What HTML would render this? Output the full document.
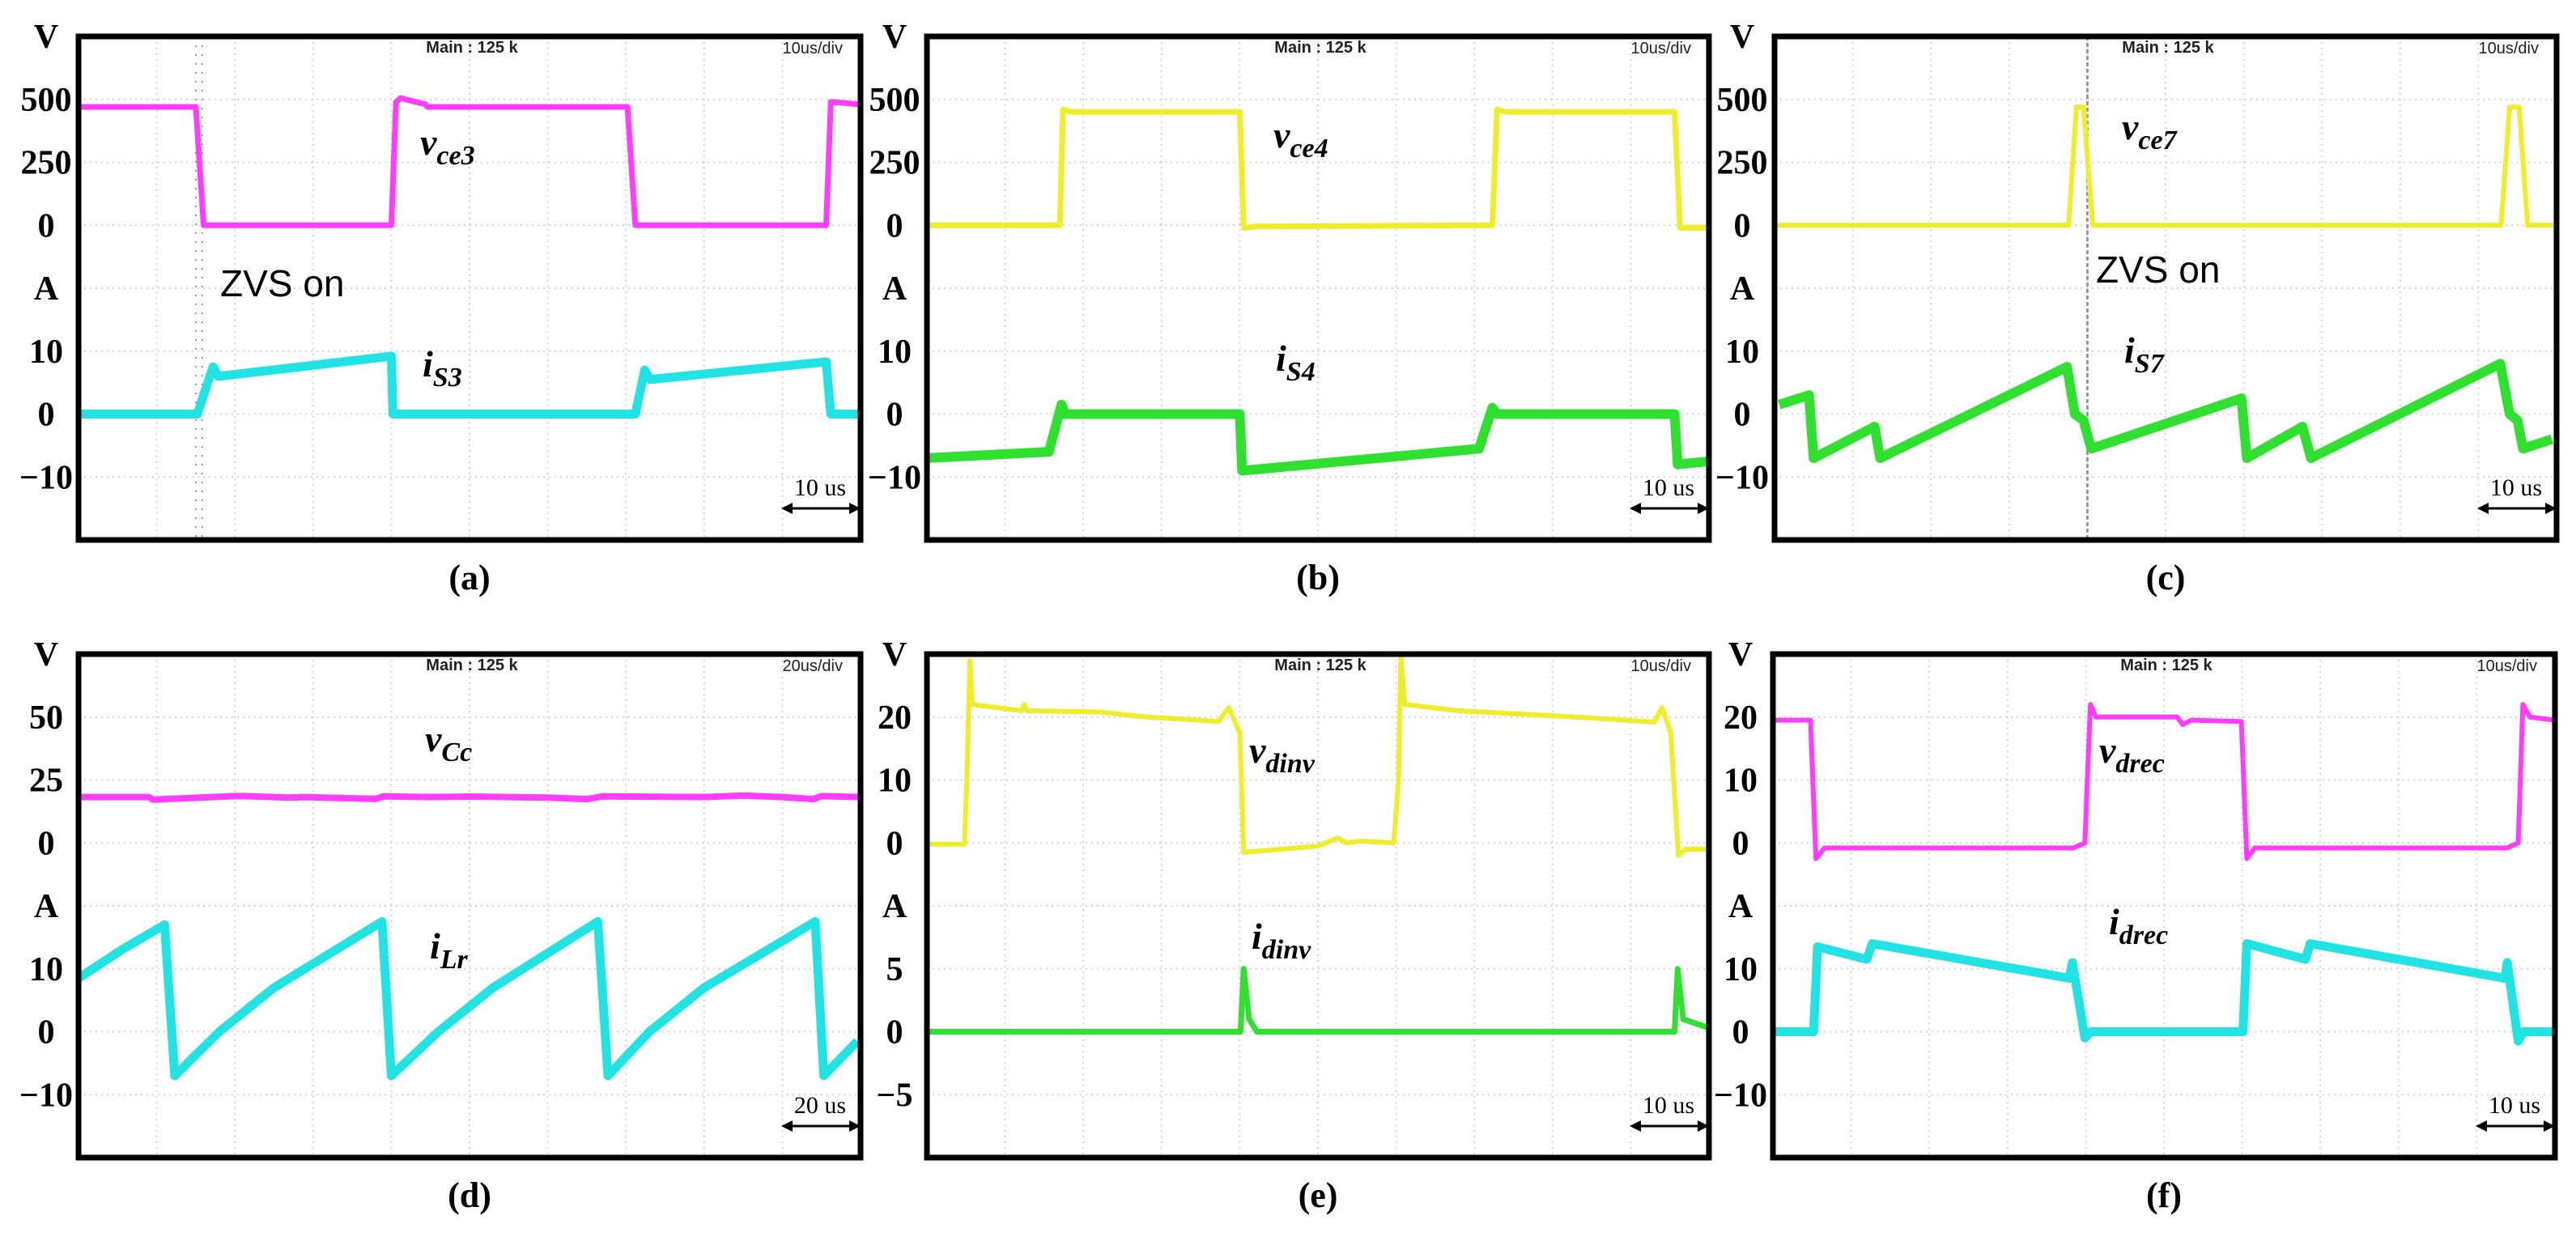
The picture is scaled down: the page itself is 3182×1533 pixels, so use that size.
<!DOCTYPE html>
<html><head><meta charset="utf-8"><style>
html,body{margin:0;padding:0;background:#fff;}
svg{display:block;}
</style></head><body>
<svg id="fig" width="3182" height="1533" viewBox="0 0 3182 1533" xmlns="http://www.w3.org/2000/svg"></svg>
<script>
// ---- data (time in us-units 0..100 across 10 divisions) ----
const aVT=[0,15,16,40,40.6,41.2,44.4,44.6,70.2,71.2,95.6,96.2,100];
const aVV=[470,470,0,0,490,505,480,470,470,0,0,490,480];
const aIT=[0,15.2,17.2,17.9,40,40.2,71.2,72.4,73.1,95.6,96.2,100];
const aIV=[0,0,7.5,6,9.2,0,0,7,5.5,8.3,0,0];
const bVT=[0,17.0,17.4,18.5,40,40.5,42,72.3,72.9,74,95.6,96.3,100];
const bVV=[0,0,460,450,450,-10,-5,0,460,450,450,-10,-10];
const bIT=[0,15.6,17.2,17.7,40,40.3,70.6,72.3,72.9,95.6,96,100];
const bIV=[-7,-6,1.5,0,0,-9,-5.5,1,0,0,-8,-7.5];
const cVT=[0,37.6,38.6,39.5,40.7,41.2,92.9,94,95.2,96.3,100];
const cVV=[0,0,470,470,0,0,0,470,470,0,0];
const cIT=[0.6,4.4,5.0,12.8,13.5,37.4,38.4,39.5,40.5,59.7,60.4,67.5,68.6,92.8,94,95,95.7,99.4];
const cIV=[1.5,3,-7,-2,-7,7.5,0,-1,-5.5,2.5,-7,-2,-7,8,0,-1,-5.5,-4];
const dVT=[0,9,9.5,20,21,27,29,38,39,45,50,60,65,67,80,85,90,94,95,100];
const dVV=[18.2,18.2,17.2,18.6,18.6,18,18.2,17.5,18.5,18.2,18.4,18,17.4,18.5,18.2,18.8,18.2,17.4,18.6,18.2];
const dIT=[0,5.5,11,12.3,18,25,38.8,40,46,53,66.4,67.7,73,80,94.2,95.3,99.6];
const dIV=[8.5,13,17,-7,0,7,17.5,-7,0,7,17.5,-7,0,7,17.5,-7,-1.5];
const eVT=[0,4.8,5.1,5.5,5.8,12.1,12.4,12.8,22,28.2,37.3,38.6,40,40.5,50,52.6,53.5,55.5,59.7,60.3,60.6,61.1,68,83,93,94,95.1,96.1,97,100];
const eVV=[-0.2,-0.2,10,29,22,21,22,21,20.8,20,19.3,21.5,17.5,-1.5,-0.5,0.8,0,0.3,0,10,30,22,21,20,19.2,21.5,17.5,-2,-1,-1];
const eIT=[0,40.1,40.5,41.2,42.2,95.6,96,96.7,100];
const eIV=[0,0,5,1,0,0,5,1,0.3];
const fVT=[0,4.8,5.5,6.6,38.4,39.9,40.2,40.6,41.3,51.7,52.4,53.5,59.9,60.6,61.6,93.9,95.3,95.9,96.8,100];
const fVV=[19.5,19.5,-2.5,-0.8,-0.8,0,10,22,20,20,18.8,19.5,19.3,-2.5,-0.8,-0.8,0,22,20,19.5];
const fIT=[0,5.2,5.7,12,12.7,37.9,38.3,39.9,40.6,60.1,60.6,68.1,68.7,93.6,93.9,95.3,96,100];
const fIV=[0,0,13.5,11.5,14,8.5,11,-1,0,0,14,11.5,14,8.5,11,-1.5,0,0];

const aTicks=["V","500","250","0","A","10","0","\u221210"];
const bTicks=["V","500","250","0","A","10","0","\u221210"];
const cTicks=["V","500","250","0","A","10","0","\u221210"];
const dTicks=["V","50","25","0","A","10","0","\u221210"];
const eTicks=["V","20","10","0","A","5","0","\u22125"];
const fTicks=["V","20","10","0","A","10","0","\u221210"];

const M="#ff3cff",C="#22e3e3",Y="#eded2a",G="#2fe02f";
const panels=[
 {id:"a",x:97,y:45,ticks:aTicks,vs:250,is:10,div:"10us/div",bar:"10 us",
  v:{t:aVT,y:aVV,c:M,w:7},i:{t:aIT,y:aIV,c:C,w:11},
  vl:["v","ce3",422,146],il:["i","S3",425,420],zvs:[175,321],dot:[15,15.8]},
 {id:"b",x:1145,y:45,ticks:bTicks,vs:250,is:10,div:"10us/div",bar:"10 us",
  v:{t:bVT,y:bVV,c:Y,w:7},i:{t:bIT,y:bIV,c:G,w:12},
  vl:["v","ce4",428,137],il:["i","S4",431,413]},
 {id:"c",x:2192,y:45,ticks:cTicks,vs:250,is:10,div:"10us/div",bar:"10 us",
  v:{t:cVT,y:cVV,c:Y,w:6},i:{t:cIT,y:cIV,c:G,w:12},
  vl:["v","ce7",429,127],il:["i","S7",432,403],zvs:[397,304],dash:40},
 {id:"d",x:97,y:808,ticks:dTicks,vs:25,is:10,div:"20us/div",bar:"20 us",
  v:{t:dVT,y:dVV,c:M,w:8},i:{t:dIT,y:dIV,c:C,w:11},
  vl:["v","Cc",428,120],il:["i","Lr",434,376]},
 {id:"e",x:1145,y:808,ticks:eTicks,vs:10,is:5,div:"10us/div",bar:"10 us",
  v:{t:eVT,y:eVV,c:Y,w:6},i:{t:eIT,y:eIV,c:G,w:7},
  vl:["v","dinv",398,134],il:["i","dinv",401,364]},
 {id:"f",x:2190,y:808,ticks:fTicks,vs:10,is:10,div:"10us/div",bar:"10 us",
  v:{t:fVT,y:fVV,c:M,w:6},i:{t:fIT,y:fIV,c:C,w:11},
  vl:["v","drec",403,134],il:["i","drec",415,346]}
];
const W=966,H=622,DW=W/10,DH=H/8;
const NS="http://www.w3.org/2000/svg";
const svg=document.getElementById("fig");
function mk(tag,attrs,parent,text){const e=document.createElementNS(NS,tag);for(const k in attrs)e.setAttribute(k,attrs[k]);if(text!==undefined)e.textContent=text;(parent||svg).appendChild(e);return e;}

panels.forEach(p=>{
 const g=mk("g",{});
 
 
 const xs=t=>p.x+t/100*W;
 const yv=v=>p.y+3*DH-v/p.vs*DH;
 const yi=v=>p.y+6*DH-v/p.is*DH;
 for(let k=1;k<10;k++){const l=mk("line",{x1:p.x+k*DW,y1:p.y,x2:p.x+k*DW,y2:p.y+H,stroke:"#d4d4d4","stroke-width":2,"stroke-dasharray":"2 5"},g);
  }
 for(let k=1;k<8;k++){const l=mk("line",{x1:p.x,y1:p.y+k*DH,x2:p.x+W,y2:p.y+k*DH,stroke:"#d4d4d4","stroke-width":2,"stroke-dasharray":"2 5"},g);
  }
 if(p.dot){p.dot.forEach(t=>{const l=mk("line",{x1:xs(t),y1:p.y,x2:xs(t),y2:p.y+H,stroke:"#777","stroke-width":1.5,"stroke-dasharray":"2 9"},g);
  });}
 if(p.dash!==undefined){const l=mk("line",{x1:xs(p.dash),y1:p.y,x2:xs(p.dash),y2:p.y+H,stroke:"#999","stroke-width":3,"stroke-dasharray":"5 3"},g);
  }
 const vp=mk("polyline",{points:p.v.t.map((t,i)=>xs(t)+","+yv(p.v.y[i])).join(" "),fill:"none",stroke:p.v.c,"stroke-width":p.v.w,"stroke-linejoin":"round"},g);
 
 
 const ip=mk("polyline",{points:p.i.t.map((t,i)=>xs(t)+","+yi(p.i.y[i])).join(" "),fill:"none",stroke:p.i.c,"stroke-width":p.i.w,"stroke-linejoin":"round"},g);
 
 
 const b=mk("rect",{x:p.x,y:p.y,width:W,height:H,fill:"none",stroke:"#000","stroke-width":7},g);
 
 
 p.ticks.forEach((s,k)=>{const t=mk("text",{x:p.x-40,y:p.y+k*DH+14,"text-anchor":"middle","font-family":"Liberation Serif, serif","font-weight":"bold","font-size":42},g,s);
  });
 const h1=mk("text",{x:p.x+W/2+3,y:p.y+20,"text-anchor":"middle","font-family":"Liberation Sans, sans-serif","font-size":20,"font-weight":"bold",fill:"#222"},g,"Main : 125 k");
 
 const h2=mk("text",{x:p.x+W-22,y:p.y+21,"text-anchor":"end","font-family":"Liberation Sans, sans-serif","font-size":20,fill:"#222"},g,p.div);
 
 const st=mk("text",{x:p.x+W-50,y:p.y+567,"text-anchor":"middle","font-family":"Liberation Serif, serif","font-size":30},g,p.bar);
 
 const sl=mk("line",{x1:p.x+W-90,y1:p.y+583,x2:p.x+W-8,y2:p.y+583,stroke:"#000","stroke-width":3},g);
 
 mk("polygon",{points:`${p.x+W-98},${p.y+583} ${p.x+W-84},${p.y+576} ${p.x+W-84},${p.y+590}`,fill:"#000"},g);
 mk("polygon",{points:`${p.x+W},${p.y+583} ${p.x+W-14},${p.y+576} ${p.x+W-14},${p.y+590}`,fill:"#000"},g);
 [p.vl,p.il].forEach((L,j)=>{const t=mk("text",{x:p.x+L[2],y:p.y+L[3],"font-family":"Liberation Serif, serif","font-style":"italic","font-weight":"bold","font-size":46},g);
  
  mk("tspan",{},t,L[0]);mk("tspan",{dy:12,"font-size":34},t,L[1]);});
 if(p.zvs){const z=mk("text",{x:p.x+p.zvs[0],y:p.y+p.zvs[1],"font-family":"Liberation Sans, sans-serif","font-size":46},g,"ZVS on");
  }
 const cap=mk("text",{x:p.x+W/2,y:p.y+683,"text-anchor":"middle","font-family":"Liberation Serif, serif","font-weight":"bold","font-size":44},g,"("+p.id+")");
 
});
</script>
</body></html>
